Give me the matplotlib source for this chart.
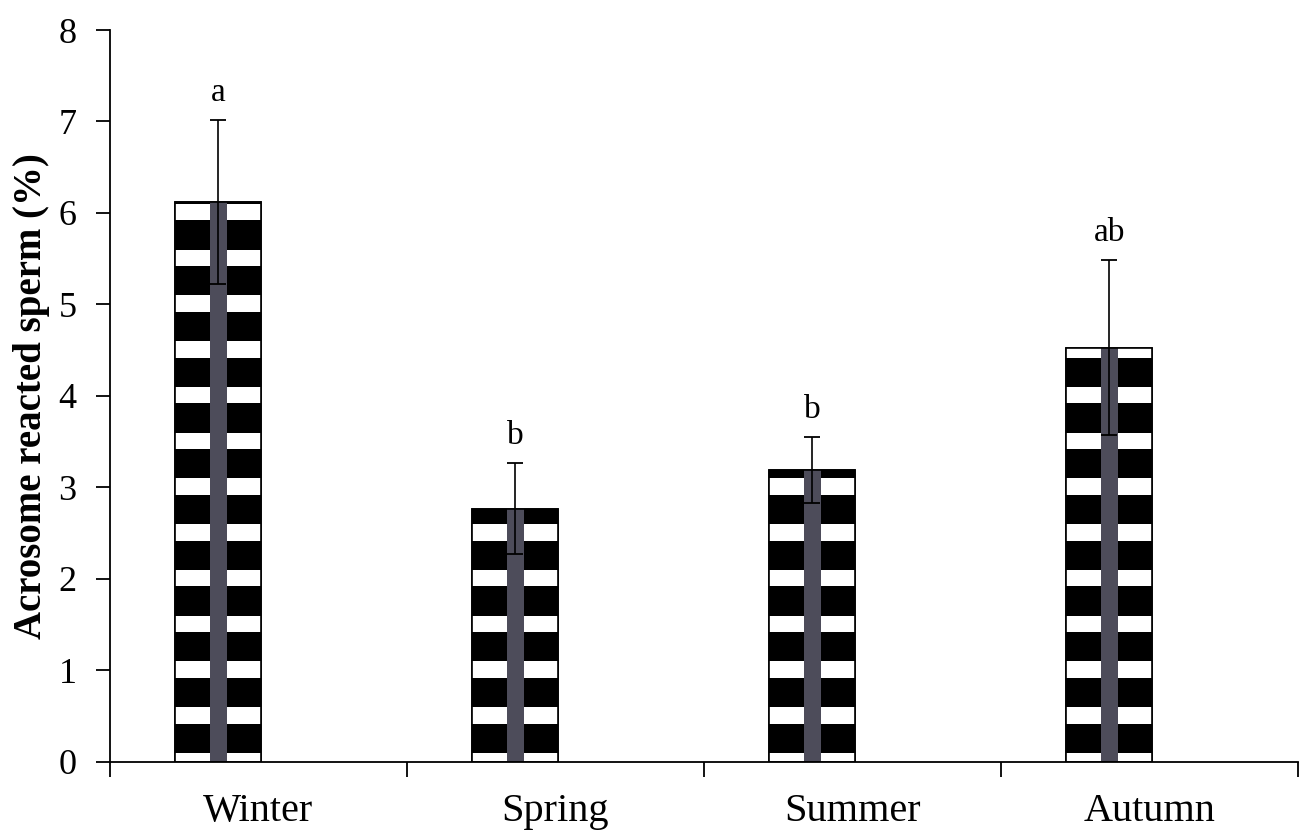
import matplotlib
matplotlib.use("Agg")
import matplotlib.pyplot as plt
from matplotlib.patches import Rectangle
import numpy as np

seasons = ["Winter", "Spring", "Summer", "Autumn"]
values = [6.12, 2.77, 3.19, 4.53]
errors = [0.90, 0.50, 0.36, 0.96]
letters = ["a", "b", "b", "ab"]
yticks = [0, 1, 2, 3, 4, 5, 6, 7, 8]

plt.rcParams['font.family'] = ['Liberation Serif', 'DejaVu Serif']

fig = plt.figure(figsize=(13.06, 8.38), dpi=100)
ax = fig.add_axes([0.0842, 0.0907, 0.9097, 0.8735])

x = np.arange(len(seasons))
width = 0.29
shift = -0.135  # bars sit left of the category centre (Excel-style)
xb = x + shift
bars = ax.bar(xb, values, width=width, color="black", edgecolor="black",
              linewidth=1.2, zorder=2)

# Excel-like fill pattern: white horizontal bands + grey centre stripe
period = 0.5
band_lo, band_hi = -0.08, 0.10
for b in bars:
    x0, w, h = b.get_x(), b.get_width(), b.get_height()
    k = 0
    while True:
        lo = max(0.0, k * period + band_lo)
        hi = min(h, k * period + band_hi)
        if lo >= h:
            break
        if hi > lo:
            ax.add_patch(Rectangle((x0, lo), w, hi - lo, facecolor="white",
                                   edgecolor="none", zorder=2.1))
        k += 1
    sw = w * 0.19
    ax.add_patch(Rectangle((x0 + w / 2 - sw / 2, 0), sw, h, facecolor="#4d4c5a",
                           edgecolor="none", zorder=2.2))
    ax.add_patch(Rectangle((x0, 0), w, h, facecolor="none", edgecolor="black",
                           linewidth=1.2, zorder=2.3))

ax.errorbar(xb, values, yerr=errors, fmt="none", ecolor="black", elinewidth=1.2,
            capsize=6, capthick=1.3, zorder=3)

for xi, v, e, t in zip(xb, values, errors, letters):
    ax.text(xi, v + e + 0.13, t, ha="center", va="bottom", fontsize=24)

ax.set_xlim(-0.5, len(seasons) - 0.5)
ax.set_ylim(0, 8)
ax.set_yticks(yticks)
ax.set_yticklabels([str(t) for t in yticks])
ax.set_xticks(x)
ax.set_xticklabels(seasons)
ax.set_xticks(np.arange(-0.5, len(seasons)), minor=True)

ax.spines["top"].set_visible(False)
ax.spines["right"].set_visible(False)
ax.spines["left"].set_linewidth(1.3)
ax.spines["bottom"].set_linewidth(1.3)

ax.tick_params(axis="y", direction="out", length=10, width=1.3, labelsize=26, pad=14)
ax.tick_params(axis="x", which="major", length=0, labelsize=29, pad=22)
ax.tick_params(axis="x", which="minor", direction="out", length=11, width=1.3)

ax.set_ylabel("Acrosome reacted sperm (%)", fontsize=28, fontweight="bold", labelpad=6)

fig.savefig("out.png", dpi=100)
